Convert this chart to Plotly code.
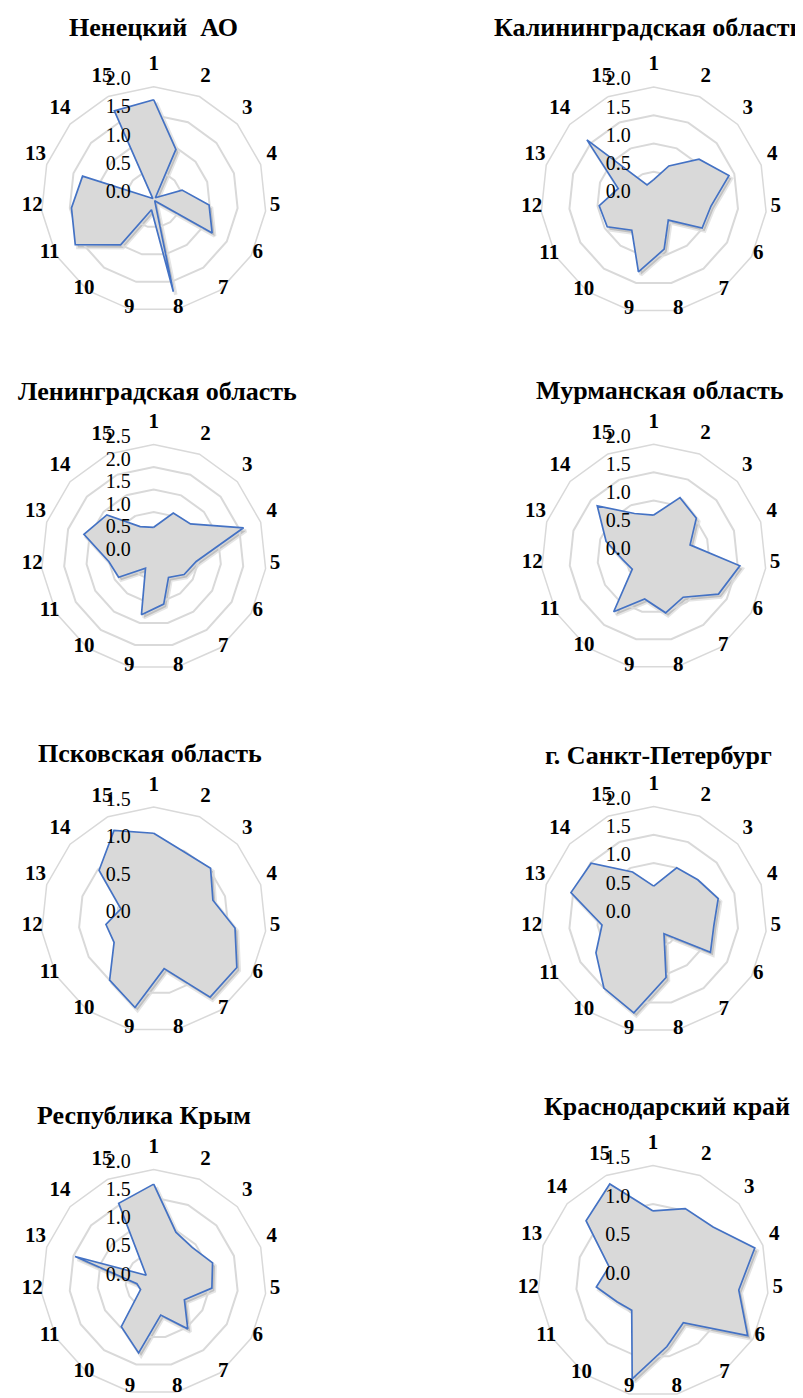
import math
import plotly.graph_objects as go

categories = [str(i) for i in range(1, 16)]

titles = [
    "Ненецкий  АО",
    "Калининградская область",
    "Ленинградская область",
    "Мурманская область",
    "Псковская область",
    "г. Санкт-Петербург",
    "Республика Крым",
    "Краснодарский край",
]

nenets = [1.77, 0.97, 0.04, 0.53, 0.99, 1.20, 0.03, 1.68, 0.19, 1.00, 1.61, 1.47, 1.33, 0.02, 1.72]
kaliningrad = [0.36, 0.66, 1.08, 1.40, 1.02, 0.99, 0.44, 0.89, 1.30, 0.66, 0.95, 0.97, 0.66, 1.59, 0.29]
leningrad = [0.66, 1.07, 1.10, 2.10, 0.95, 0.78, 0.56, 1.07, 1.31, 0.31, 0.90, 1.00, 1.63, 1.40, 0.74]
murmansk = [0.74, 1.15, 1.02, 0.68, 1.54, 1.33, 0.89, 1.02, 0.77, 1.21, 0.44, 0.55, 0.89, 1.35, 0.84]
pskov = [1.15, 0.99, 1.02, 0.83, 1.09, 1.28, 1.28, 0.67, 1.20, 1.00, 0.61, 0.64, 0.46, 0.98, 1.30]
spb = [0.59, 1.00, 1.05, 1.20, 1.07, 1.16, 0.31, 1.05, 1.69, 1.50, 1.18, 0.92, 1.54, 1.49, 0.92]
crimea = [1.74, 0.97, 0.92, 1.10, 1.04, 0.63, 1.03, 0.60, 1.29, 0.98, 0.27, 0.30, 1.47, 0.18, 1.53]
krasnodar = [0.91, 1.03, 1.05, 1.39, 1.12, 1.42, 0.67, 0.87, 1.30, 0.47, 0.54, 0.74, 0.60, 1.17, 1.38]

series = [nenets, kaliningrad, leningrad, murmansk, pskov, spb, crimea, krasnodar]
radial_max = [2.0, 2.0, 2.5, 2.0, 1.5, 2.0, 2.0, 1.5]
radial_step = 0.5

# ---- layout (pixels) ----
W, H = 803, 1398
centers = [(145.7, 191.3), (645.7, 192.0), (145.7, 549.0), (645.7, 548.7),
           (145.7, 911.5), (645.7, 911.5), (145.7, 1274.0), (645.0, 1273.0)]
radii = [112.5, 113.0, 112.5, 112.5, 112.5, 113.0, 112.5, 115.5]
title_pos = [(145, 20, "center"), (798, 20, "right"), (149, 383, "center"), (652, 382, "center"),
             (142, 745, "center"), (650, 747, "center"), (136, 1107, "center"), (659, 1098, "center")]
SHADOW_DX, SHADOW_DY = 2.5, 3.0
LABEL_SIZE = 21
TEXT_DROP = 6.5          # plotly draws point text slightly below its anchor point
LABEL_MAX_Y = H - 13.0   # keep category labels fully inside the page

GRID = "#d9d9d9"
SERIF = "Liberation Serif"
N = len(series)

fig = go.Figure()
annotations = []
layout_polars = {}


def dom(cx, cy, r):
    return dict(x=[(cx - r) / W, (cx + r) / W], y=[1 - (cy + r) / H, 1 - (cy - r) / H])


def bare_angular():
    return dict(rotation=90, direction="clockwise", showgrid=False, showline=False,
                ticks="", showticklabels=False,
                categoryorder="array", categoryarray=categories)


# 1) soft drop shadows (same data, slightly offset subplot)
for i, (vals, rmax) in enumerate(zip(series, radial_max)):
    key = "polar" if i == 0 else f"polar{i+1}"
    fig.add_trace(go.Scatterpolar(
        r=vals + [vals[0]], theta=categories + [categories[0]],
        mode="lines", fill="toself",
        fillcolor="rgba(0,0,0,0.16)",
        line=dict(color="rgba(0,0,0,0.10)", width=3.5),
        subplot=key, showlegend=False, hoverinfo="skip",
    ))
    cx, cy = centers[i]
    R = radii[i]
    layout_polars[key] = dict(
        domain=dom(cx + SHADOW_DX, cy + SHADOW_DY, R),
        gridshape="linear", bgcolor="rgba(0,0,0,0)",
        angularaxis=bare_angular(),
        radialaxis=dict(range=[0, rmax], showgrid=False, showline=False,
                        showticklabels=False, ticks=""),
    )

# 2) main radar charts
for i, (vals, rmax) in enumerate(zip(series, radial_max)):
    key = f"polar{N + i + 1}"
    fig.add_trace(go.Scatterpolar(
        r=vals + [vals[0]],
        theta=categories + [categories[0]],
        mode="lines",
        fill="toself",
        fillcolor="#d9d9d9",
        line=dict(color="#4472C4", width=1.7),
        subplot=key, showlegend=False, hoverinfo="skip",
    ))
    cx, cy = centers[i]
    R = radii[i]
    layout_polars[key] = dict(
        domain=dom(cx, cy, R),
        gridshape="linear",
        bgcolor="rgba(0,0,0,0)",
        angularaxis=dict(
            rotation=90, direction="clockwise",
            showgrid=False, showline=True, linecolor=GRID, linewidth=1.5,
            ticks="", showticklabels=False,
            categoryorder="array", categoryarray=categories,
        ),
        radialaxis=dict(
            range=[0, rmax], dtick=radial_step, tick0=0,
            angle=90, showline=False, showticklabels=False, ticks="",
            gridcolor=GRID, gridwidth=1.5, layer="below traces",
        ),
    )
    tx, ty, anc = title_pos[i]
    annotations.append(dict(
        text=titles[i], x=tx / W, y=1 - ty / H, xref="paper", yref="paper",
        xanchor=anc, yanchor="middle", showarrow=False,
        font=dict(family=SERIF, size=26, color="black", weight="bold"),
    ))

# 3) transparent overlay polars (same scale, centre raised by TEXT_DROP) carrying the axis labels
for i, rmax in enumerate(radial_max):
    key = f"polar{2 * N + i + 1}"
    cx, cy = centers[i]
    R = radii[i]
    cyo = cy - TEXT_DROP
    room = min(cx, W - cx, cyo, H - cyo, 1.2 * R)
    rmax_o = rmax * room / R
    px_per_unit = R / rmax

    nt = int(round(rmax / radial_step)) + 1
    tick_vals = [k * radial_step for k in range(nt)]
    fig.add_trace(go.Scatterpolar(
        r=tick_vals, theta=[categories[0]] * nt,
        mode="markers+text",
        text=[f"{v:.1f}" for v in tick_vals],
        textposition="middle left",
        textfont=dict(family=SERIF, size=20, color="black"),
        marker=dict(size=35, color="rgba(0,0,0,0)"),
        cliponaxis=False,
        subplot=key, showlegend=False, hoverinfo="skip",
    ))
    lab_r = []
    for k in range(15):
        ang = math.radians(24 * k)
        rr = min(rmax * (1.09 + 0.045 * math.cos(ang)), rmax_o * 0.995)
        down = -math.cos(ang)
        if down > 0:
            rr = min(rr, (LABEL_MAX_Y - cy) / down / px_per_unit)
        lab_r.append(rr)
    fig.add_trace(go.Scatterpolar(
        r=lab_r, theta=categories,
        mode="text", text=categories,
        textposition="middle center",
        textfont=dict(family=SERIF, size=LABEL_SIZE, color="black", weight="bold"),
        cliponaxis=False,
        subplot=key, showlegend=False, hoverinfo="skip",
    ))
    layout_polars[key] = dict(
        domain=dom(cx, cyo, room),
        gridshape="circular",
        bgcolor="rgba(0,0,0,0)",
        angularaxis=bare_angular(),
        radialaxis=dict(range=[0, rmax_o], showgrid=False, showline=False,
                        showticklabels=False, ticks=""),
    )

fig.update_layout(
    width=W, height=H,
    margin=dict(l=0, r=0, t=0, b=0, autoexpand=False),
    paper_bgcolor="white",
    plot_bgcolor="white",
    annotations=annotations,
    **layout_polars,
)

fig.write_html("out.html")
